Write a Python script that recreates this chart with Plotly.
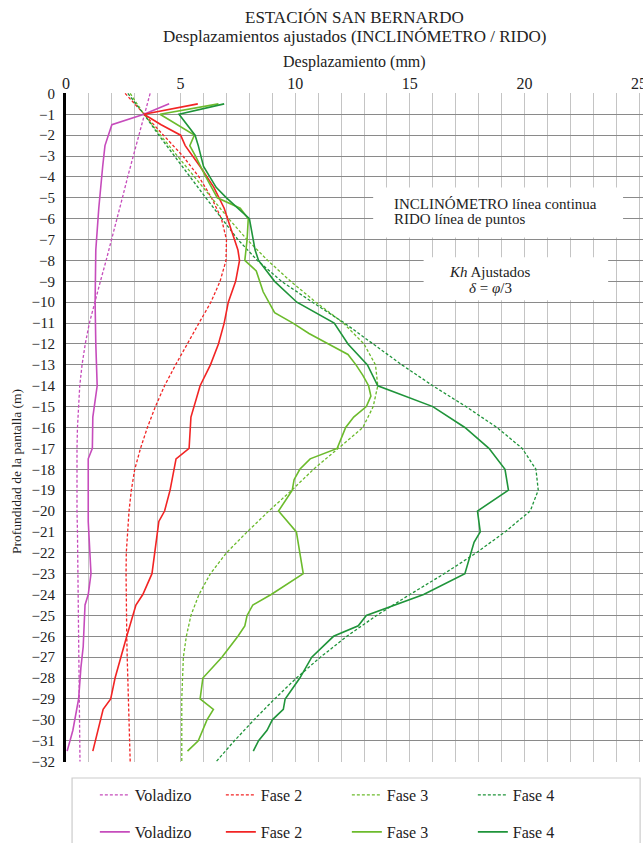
import plotly.graph_objects as go

# ---------------- data ----------------
depth_rido = [0, -1, -2, -3, -4, -5, -6, -7, -8, -9, -10, -11, -12, -13, -14, -15, -16,
              -17, -18, -19, -20, -21, -22, -23, -24, -25, -26, -27, -28, -29, -30, -31, -32]

vol_rido = [3.67, 3.42, 3.18, 2.93, 2.69, 2.46, 2.23, 2.0, 1.75, 1.5, 1.26, 1.02, 0.84, 0.7, 0.6, 0.54, 0.5,
            0.48, 0.47, 0.47, 0.48, 0.5, 0.51, 0.53, 0.54, 0.56, 0.57, 0.58, 0.59, 0.6, 0.6, 0.61, 0.61]
f2_rido = [2.58, 3.4, 4.25, 5.1, 5.8, 6.35, 6.78, 7.0, 6.98, 6.72, 6.32, 5.8, 5.28, 4.78, 4.3, 3.9, 3.55,
           3.25, 3.0, 2.85, 2.75, 2.68, 2.63, 2.62, 2.62, 2.63, 2.65, 2.67, 2.7, 2.72, 2.75, 2.77, 2.8]
f3_rido = [2.8, 3.4, 4.12, 4.85, 5.6, 6.35, 7.1, 7.9, 8.8, 9.8, 10.9, 12.1, 13.0, 13.5, 13.6, 13.4, 12.95,
           11.85, 10.8, 9.85, 8.85, 7.9, 7.0, 6.3, 5.8, 5.45, 5.25, 5.12, 5.07, 5.05, 5.05, 5.05, 5.05]
f4_rido = [2.7, 3.4, 4.05, 4.72, 5.4, 6.1, 6.8, 7.5, 8.35, 9.4, 10.75, 12.15, 13.4, 14.65, 16.0, 17.45, 18.8,
           19.9, 20.5, 20.6, 20.25, 19.15, 17.9, 16.5, 15.0, 13.55, 12.25, 11.1, 10.05, 9.1, 8.2, 7.35, 6.55]

vol_incl_depth = [-0.5, -1, -1.5, -2.5, -3.5, -5.5, -7.5, -10, -12, -14, -15.5, -17, -17.5, -20.5,
                  -23, -24, -24.5, -26.5, -27.5, -29, -30.5, -31.5]
vol_incl = [4.5, 3.4, 2.0, 1.7, 1.6, 1.43, 1.3, 1.27, 1.3, 1.36, 1.17, 1.15, 0.97, 0.97,
            1.09, 0.97, 0.83, 0.75, 0.65, 0.55, 0.3, 0.05]

f2_incl_depth = [-0.5, -1, -1.5, -2, -2.5, -3.5, -4.5, -5.5, -6.5, -7.5, -8, -9, -10, -11, -12,
                 -13, -14, -15.5, -17, -17.5, -19, -20, -20.5, -23, -24, -24.5, -26, -28, -29, -29.5, -31.5]
f2_incl = [5.75, 3.4, 4.15, 5.0, 5.2, 5.85, 6.45, 6.9, 7.2, 7.5, 7.57, 7.4, 7.08, 6.9, 6.65,
           6.3, 5.85, 5.45, 5.37, 4.8, 4.54, 4.3, 4.05, 3.75, 3.35, 3.05, 2.65, 2.14, 1.95, 1.62, 1.17]

f3_incl_depth = [-0.5, -1, -2, -2.5, -3, -4, -5, -5.5, -6, -7, -8, -8.5, -9.5, -10.5, -11,
                 -11.5, -12, -12.5, -13, -13.5, -14, -14.5, -15, -15.5, -16, -17, -17.5, -18, -18.5, -19,
                 -20, -21, -22, -23, -24, -24.5, -25, -25.5, -26, -27, -28, -29, -29.5, -30, -31, -31.5]
f3_incl = [6.65, 4.1, 5.6, 5.4, 5.65, 6.1, 6.6, 7.6, 7.95, 7.9, 7.8, 8.3, 8.6, 9.1, 9.9,
           10.6, 11.45, 12.3, 12.65, 12.95, 13.2, 13.3, 13.1, 12.55, 12.2, 11.83, 10.65, 10.2, 9.95, 9.87,
           9.27, 10.05, 10.2, 10.35, 8.95, 8.15, 7.9, 7.8, 7.5, 6.8, 5.97, 5.85, 6.43, 6.15, 5.77, 5.3]

f4_incl_depth = [-0.5, -1, -2, -2.5, -3.5, -4.5, -5, -6, -7.5, -8, -9, -10, -11, -12, -13,
                 -14, -15, -16, -17, -18, -19, -20, -21, -21.5, -23, -24, -25, -25.5, -26, -27,
                 -28, -29, -29.5, -30, -30.5, -31, -31.5]
f4_incl = [6.9, 4.93, 5.63, 5.77, 6.0, 6.55, 7.0, 8.0, 8.25, 8.4, 9.1, 10.07, 11.7, 12.3, 13.15,
           13.6, 16.0, 17.4, 18.45, 19.15, 19.3, 17.95, 18.07, 17.8, 17.4, 15.6, 13.1, 12.75, 11.67, 10.72,
           10.2, 9.56, 9.48, 9.0, 8.77, 8.4, 8.17]

names = ["Voladizo", "Fase 2", "Fase 3", "Fase 4"]
colors = ["#c64cbc", "#f22424", "#6cbb2c", "#1f943a"]

title_lines = ["ESTACIÓN SAN BERNARDO", "Desplazamientos ajustados (INCLINÓMETRO / RIDO)"]
note1_lines = ["INCLINÓMETRO línea continua", "RIDO línea de puntos"]
note2_lines = ["<i>Kh</i> Ajustados", "<i>δ</i> = <i>φ</i>/3"]

FONT = "Liberation Serif"
TXT = "#222222"

fig = go.Figure()

rido = [vol_rido, f2_rido, f3_rido, f4_rido]
for n, c, vals in zip(names, colors, rido):
    fig.add_trace(go.Scatter(x=vals, y=depth_rido, mode="lines", name=n,
                             line=dict(color=c, width=1.3, dash="3px,2px"),
                             legend="legend"))

incl = [(vol_incl, vol_incl_depth), (f2_incl, f2_incl_depth),
        (f3_incl, f3_incl_depth), (f4_incl, f4_incl_depth)]
for n, c, (vals, dep) in zip(names, colors, incl):
    fig.add_trace(go.Scatter(x=vals, y=dep, mode="lines", name=n,
                             line=dict(color=c, width=1.6),
                             legend="legend2"))

# white boxes behind the notes
fig.add_shape(type="rect", xref="x", yref="y", x0=13.4, x1=24.3, y0=-4.5, y1=-6.9,
              fillcolor="white", line=dict(width=0), layer="between")
fig.add_shape(type="rect", xref="x", yref="y", x0=15.6, x1=23.65, y0=-7.85, y1=-9.9,
              fillcolor="white", line=dict(width=0), layer="between")
# legend frame
fig.add_shape(type="rect", xref="paper", yref="paper", x0=0.0105, x1=0.995, y0=-0.14, y1=-0.0239,
              fillcolor="rgba(0,0,0,0)", line=dict(color="#cccccc", width=1.2))

# notes (one annotation per line for tight line spacing)
for txt, yv in zip(note1_lines, [-5.3, -6.02]):
    fig.add_annotation(x=14.2, y=yv, xref="x", yref="y", xanchor="left", yanchor="middle",
                       showarrow=False, text=txt, font=dict(family=FONT, size=15, color=TXT))
for txt, yv in zip(note2_lines, [-8.55, -9.3]):
    fig.add_annotation(x=18.5, y=yv, xref="x", yref="y", xanchor="center", yanchor="middle",
                       showarrow=False, text=txt, font=dict(family=FONT, size=15, color=TXT))

# titles
for txt, ys in zip(title_lines, [76, 57]):
    fig.add_annotation(x=0.5, y=1.0, xref="paper", yref="paper", yshift=ys, showarrow=False,
                       xanchor="center", yanchor="middle", text=txt,
                       font=dict(family=FONT, size=17, color=TXT))
fig.add_annotation(x=0.5, y=1.0, xref="paper", yref="paper", yshift=31, showarrow=False,
                   xanchor="center", yanchor="middle", text="Desplazamiento (mm)",
                   font=dict(family=FONT, size=16, color=TXT))
fig.add_annotation(x=-0.085, y=0.435, xref="paper", yref="paper", showarrow=False,
                   textangle=-90, xanchor="center", yanchor="middle",
                   text="Profundidad de la pantalla (m)",
                   font=dict(family=FONT, size=13.5, color=TXT))

fig.update_layout(
    width=643, height=843,
    margin=dict(l=66, r=0, t=93, b=81, autoexpand=False),
    paper_bgcolor="white", plot_bgcolor="white",
    font=dict(family=FONT, size=15, color=TXT),
    xaxis=dict(side="top", range=[0, 25.17], dtick=5, tick0=0, showgrid=True,
               gridcolor="#c4c4c4", gridwidth=1, zeroline=False, showline=False,
               ticks="", ticklabeloverflow="allow",
               tickfont=dict(family=FONT, size=16, color=TXT),
               minor=dict(dtick=1, showgrid=True, gridcolor="#c4c4c4", gridwidth=1)),
    yaxis=dict(range=[-32.02, 0.02], dtick=1, tick0=0, showgrid=True,
               gridcolor="#8a8a8a", gridwidth=1, zeroline=False,
               showline=True, linecolor="black", linewidth=3,
               ticks="", ticklabelstandoff=5,
               tickfont=dict(family=FONT, size=15, color=TXT)),
    legend=dict(orientation="h", x=0.05, xanchor="left", y=-0.0493, yanchor="middle",
                entrywidth=81, entrywidthmode="pixels", bgcolor="rgba(0,0,0,0)",
                font=dict(family=FONT, size=16, color=TXT), borderwidth=0),
    legend2=dict(orientation="h", x=0.05, xanchor="left", y=-0.1046, yanchor="middle",
                 entrywidth=81, entrywidthmode="pixels", bgcolor="rgba(0,0,0,0)",
                 font=dict(family=FONT, size=16, color=TXT), borderwidth=0),
)

fig.write_html("out.html")
